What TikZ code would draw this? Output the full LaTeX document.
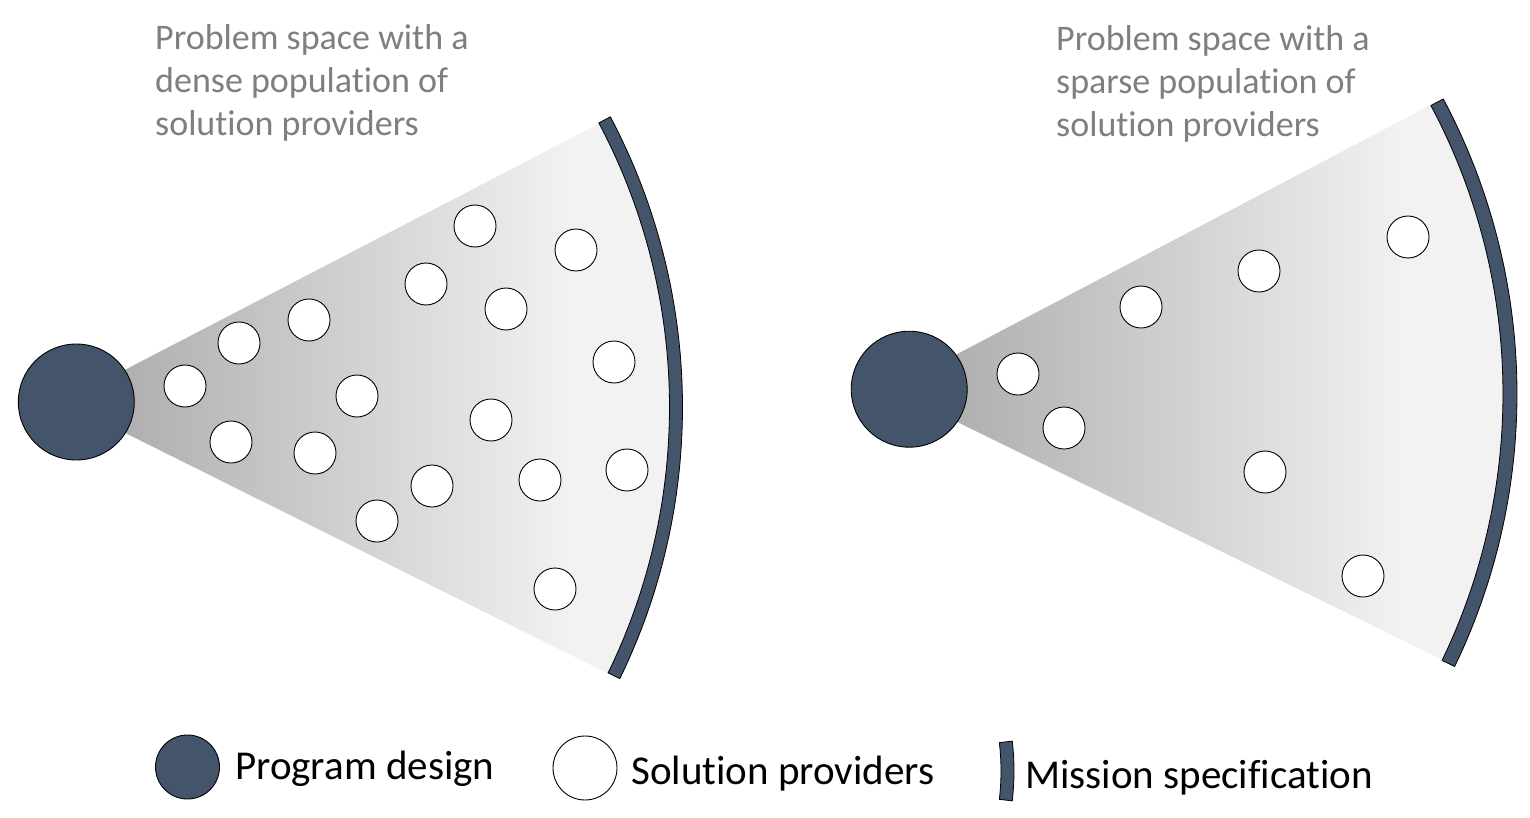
\documentclass[tikz,border=0pt]{standalone}
\usepackage{fontspec}
\setmainfont[Ligatures={NoCommon}]{Carlito}
\usetikzlibrary{calc}
\definecolor{slate}{HTML}{44546A}
\definecolor{fanL}{HTML}{A6A6A6}
\definecolor{fanR}{HTML}{F2F2F2}
\definecolor{titlegray}{HTML}{7F7F7F}
\pgfdeclarehorizontalshading{fanshade}{100bp}{color(0bp)=(fanL); color(25bp)=(fanL); color(65bp)=(fanR); color(100bp)=(fanR)}
\begin{document}
\begin{tikzpicture}[x=1pt,y=-1pt,
  design/.style={circle,draw=black,line width=0.9pt,fill=slate,minimum size=116pt,inner sep=0pt},
  sol/.style={circle,draw=black,line width=0.9pt,fill=white,minimum size=42pt,inner sep=0pt},
  specband/.style={draw=black,line width=0.8pt,fill=slate},
  fanfill/.style={shading=fanshade},
  ttext/.style={anchor=base west,inner sep=0pt,text=titlegray,font=\fontsize{36}{43}\selectfont},
  ltext/.style={anchor=base west,inner sep=0pt,text=black,font=\fontsize{41}{48}\selectfont}]
\useasboundingbox (0,0) rectangle (1530,818);
\fill[white] (0,0) rectangle (1530,818);

% ---------- left fan ----------
\coordinate (LA) at (63,402);
\coordinate (LC) at (66,395);
\coordinate (LB) at (63,407);
\shade[fanfill] (LA) -- ($(LC)+(-26.99:612)$) arc[start angle=-26.99,end angle=27.19,radius=612] -- cycle;
\path[specband] ($(LB)+(-27.93:606.5)$) arc[start angle=-27.93,end angle=26.0,radius=606.5]
  -- ($(LB)+(26.0:619.5)$) arc[start angle=26.0,end angle=-27.93,radius=619.5] -- cycle;
\node[design] (LD) at (76.3,402) {};
\node[sol] (l1) at (185,386) {};
\node[sol] (l2) at (239,343) {};
\node[sol] (l3) at (309,320) {};
\node[sol] (l4) at (231,442) {};
\node[sol] (l5) at (315,453) {};
\node[sol] (l6) at (357,396) {};
\node[sol] (l7) at (377,521) {};
\node[sol] (l8) at (426,284) {};
\node[sol] (l9) at (475,226) {};
\node[sol] (l10) at (506,309) {};
\node[sol] (l11) at (432,486) {};
\node[sol] (l12) at (491,420) {};
\node[sol] (l13) at (540,480) {};
\node[sol] (l14) at (576,250) {};
\node[sol] (l15) at (614,362) {};
\node[sol] (l16) at (627,470) {};
\node[sol] (l17) at (555,589) {};

% ---------- right fan ----------
\coordinate (RA) at (890.3,389.2);
\coordinate (RC) at (893.3,378);
\coordinate (RB) at (890,394);
\shade[fanfill] (RA) -- ($(RC)+(-26.95:618)$) arc[start angle=-26.95,end angle=27.16,radius=618] -- cycle;
\path[specband] ($(RB)+(-28.07:613)$) arc[start angle=-28.07,end angle=25.76,radius=613]
  -- ($(RB)+(25.76:627)$) arc[start angle=25.76,end angle=-28.07,radius=627] -- cycle;
\node[design] (RD) at (909.2,389.2) {};
\node[sol] (r1) at (1018,374) {};
\node[sol] (r2) at (1064,428) {};
\node[sol] (r3) at (1141,307) {};
\node[sol] (r4) at (1259,271) {};
\node[sol] (r5) at (1408,237) {};
\node[sol] (r6) at (1265,472) {};
\node[sol] (r7) at (1363,576) {};

% ---------- titles ----------
\node[ttext] (lt1) at (155,49.3) {Problem space with a};
\node[ttext] (lt2) at (155,92.3) {dense population of};
\node[ttext] (lt3) at (155,135.3) {solution providers};
\node[ttext] (rt1) at (1056,50.8) {Problem space with a};
\node[ttext] (rt2) at (1056,93.8) {sparse population of};
\node[ttext] (rt3) at (1056,136.8) {solution providers};

% ---------- legend ----------
\node[design,minimum size=64pt] (legD) at (187.5,767) {};
\node[ltext] (legDT) at (235,779) {Program design};
\node[sol,minimum size=64pt] (legS) at (585,768) {};
\node[ltext] (legST) at (631,784) {Solution providers};
\coordinate (legBC) at (758,771);
\path[specband] ($(legBC)+(-6.7:243)$) arc[start angle=-6.7,end angle=6.7,radius=243]
  -- ($(legBC)+(6.7:256)$) arc[start angle=6.7,end angle=-6.7,radius=256] -- cycle;
\node[ltext] (legMT) at (1025,788) {Mission specification};
\end{tikzpicture}
\end{document}
